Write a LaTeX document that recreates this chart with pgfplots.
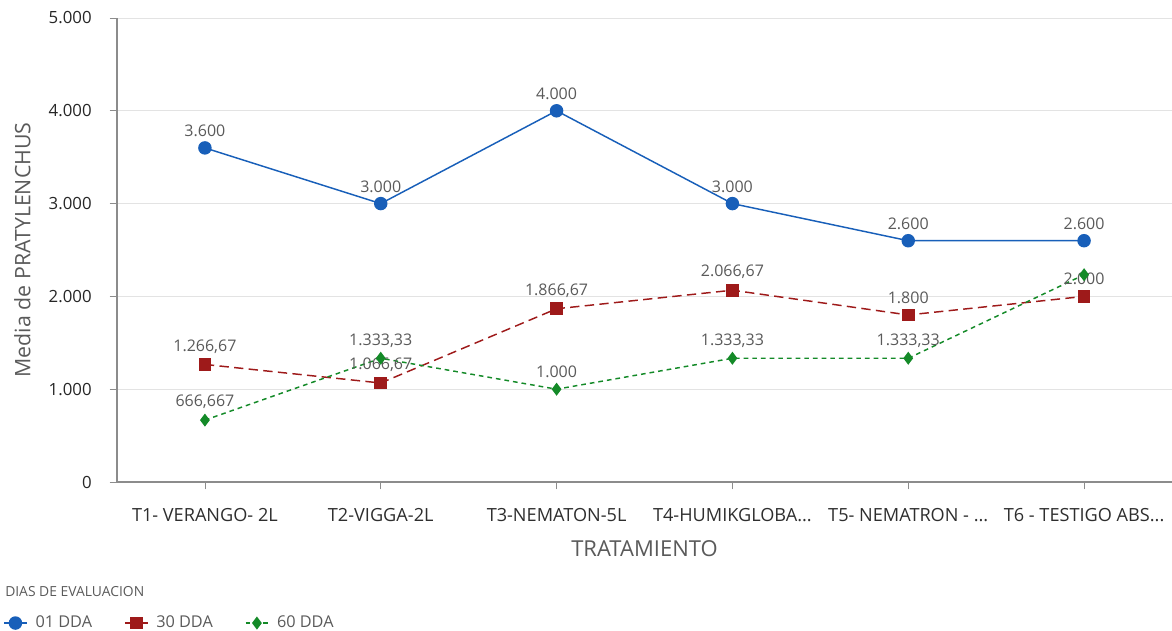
\documentclass[border=0pt]{standalone}
\usepackage{pgfplots}
\pgfplotsset{compat=1.18}
\usepackage{pgfplotstable}
\usepackage{fontspec}
\setmainfont{Open Sans}
\definecolor{cblue}{RGB}{24,95,185}
\definecolor{cred}{RGB}{158,26,26}
\definecolor{cgreen}{RGB}{20,138,40}
\definecolor{txtgray}{RGB}{90,90,90}
\definecolor{axisgray}{RGB}{140,140,140}
\newcommand{\dotsx}{.\kern0pt.\kern0pt.}

\pgfplotstableread{
x y label
0 3600 3.600
1 3000 3.000
2 4000 4.000
3 3000 3.000
4 2600 2.600
5 2600 2.600
}\dataA
\pgfplotstableread{
x y label
0 1266.67 1.266,67
1 1066.67 1.066,67
2 1866.67 1.866,67
3 2066.67 2.066,67
4 1800 1.800
5 2000 2.000
}\dataB
\pgfplotstableread{
x y label
0 666.667 666,667
1 1333.33 1.333,33
2 1000 1.000
3 1333.33 1.333,33
4 1333.33 1.333,33
5 2233.33 {}
}\dataC

\begin{document}
\begin{tikzpicture}
\begin{axis}[
  scale only axis,
  width=791.25pt, height=348pt,
  xmin=-0.5, xmax=5.5, ymin=0, ymax=5000,
  xtick={0,1,2,3,4,5},
  xticklabels={{T1- VERANGO- 2L}, {T2-VIGGA-2L}, {T3-NEMATON-5L}, {T4-HUMIKGLOBA\dotsx}, {T5- NEMATRON - \dotsx}, {T6 - TESTIGO ABS\dotsx}},
  ytick={0,1000,2000,3000,4000,5000},
  yticklabels={0,1.000,2.000,3.000,4.000,5.000},
  axis x line*=bottom, axis y line*=left,
  axis line style={axisgray, line width=0.8pt},
  every tick/.style={axisgray, line width=0.6pt},
  tick align=outside,
  major tick length=5.5pt,
  ymajorgrids,
  grid style={gray!22, line width=0.6pt},
  /pgf/number format/assume math mode=true,
  xticklabel style={font=\fontsize{13.6pt}{15pt}\selectfont, text=black!82, yshift=-11pt},
  yticklabel style={font=\fontsize{12.6pt}{14pt}\selectfont, text=black!85, xshift=-10pt},
  xlabel={TRATAMIENTO},
  ylabel={Media de PRATYLENCHUS},
  xlabel style={font=\fontsize{16.5pt}{18pt}\selectfont, text=txtgray, at={(axis description cs:0.5,0)}, anchor=center, yshift=-50pt},
  ylabel style={font=\fontsize{16pt}{18pt}\selectfont, text=txtgray, at={(axis description cs:0,0.5)}, anchor=center, yshift=71pt},
  clip=false,
  point meta=explicit symbolic,
  nodes near coords={\pgfplotspointmeta},
  every node near coord/.append style={font=\fontsize{12pt}{14pt}\selectfont, text=txtgray, anchor=south, yshift=4.5pt},
  legend columns=3,
  legend style={at={(axis description cs:-0.108,-0.304)}, anchor=west, draw=none, fill=none,
    font=\fontsize{12.2pt}{14pt}\selectfont, text=txtgray, inner xsep=0pt,
    /tikz/every odd column/.append style={column sep=4pt},
    /tikz/every even column/.append style={column sep=22pt}},
  legend cell align=left,
]
\addplot[cblue, line width=1.1pt, mark=*, mark size=4.5pt, mark options={solid, fill=cblue}]
  table[x=x, y=y, meta=label] {\dataA};
\addlegendentry{01 DDA}
\addplot[cred, line width=1.1pt, dash pattern=on 7pt off 4pt, mark=square*, mark size=4.2pt, mark options={solid, fill=cred}]
  table[x=x, y=y, meta=label] {\dataB};
\addlegendentry{30 DDA}
\addplot[cgreen, line width=1.1pt, dash pattern=on 3.5pt off 3pt, mark=diamond*, mark size=4pt, mark options={solid, fill=cgreen}]
  table[x=x, y=y, meta=label] {\dataC};
\addlegendentry{60 DDA}
\end{axis}
\node[anchor=west, font=\fontsize{10.4pt}{12pt}\selectfont, text=txtgray, inner sep=0pt] at (-84pt,-82.5pt) {DIAS DE EVALUACION};
\pgfresetboundingbox
\path (-87.75pt,-111.75pt) rectangle (791.25pt,361.5pt);
\end{tikzpicture}
\end{document}
